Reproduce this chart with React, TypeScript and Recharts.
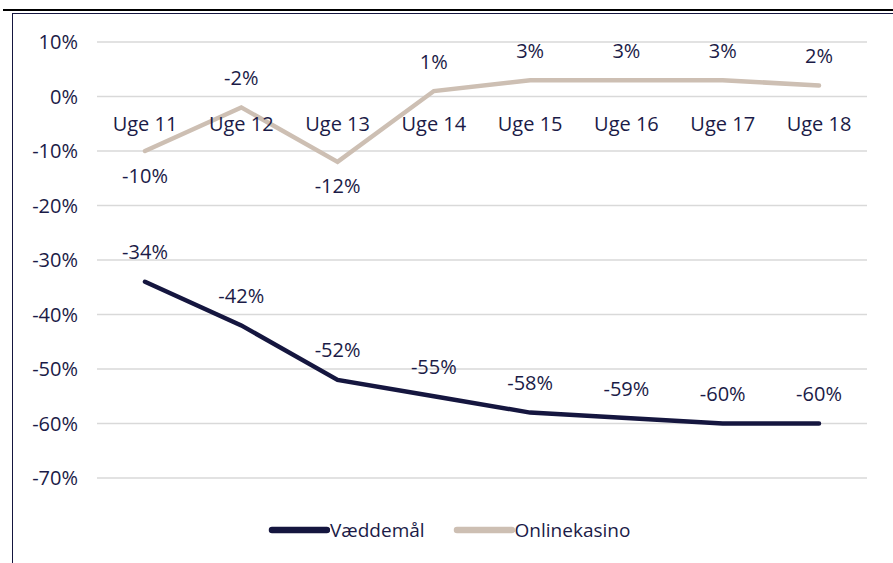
import { CartesianGrid, LabelList, Legend, Line, LineChart, XAxis, YAxis } from 'recharts'

const uger = ['Uge 11', 'Uge 12', 'Uge 13', 'Uge 14', 'Uge 15', 'Uge 16', 'Uge 17', 'Uge 18']
const vaeddemaal = [-34, -42, -52, -55, -58, -59, -60, -60]
const onlinekasino = [-10, -2, -12, 1, 3, 3, 3, 2]
const yTicks = [-70, -60, -50, -40, -30, -20, -10, 0, 10]

// which labels sit under the line instead of above it
const onlineUnder = [true, false, true, false, false, false, false, false]

const NAVY = '#15163f'
const BEIGE = '#cdbfb3'
const TEXT = '#1b1b47'
const FONT = "'Open Sans', sans-serif"

const W = 893
const H = 563
const TOP = 42
const PLOT_BOTTOM = 478
const Y_MIN = -70
const Y_MAX = 10
const ZERO_Y = TOP + (Y_MAX / (Y_MAX - Y_MIN)) * (PLOT_BOTTOM - TOP)

const data = uger.map((uge, i) => ({
  uge,
  vaeddemaal: vaeddemaal[i],
  onlinekasino: onlinekasino[i],
}))

const CategoryTick = (props: any) => {
  const { x, payload } = props
  return (
    <text x={x} y={ZERO_Y + 27} textAnchor="middle" dominantBaseline="central" fill={TEXT} fontSize={20} fontFamily={FONT}>
      {payload.value}
    </text>
  )
}

const pointLabel = (under?: boolean[]) => (props: any) => {
  const { x, y, value, index } = props
  const below = under ? under[index] : false
  return (
    <text
      x={x}
      y={below ? y + 24 : y - 30}
      textAnchor="middle"
      dominantBaseline="central"
      fill={TEXT}
      fontSize={20}
      fontFamily={FONT}
    >
      {`${value}%`}
    </text>
  )
}

const legendItems = [
  { name: 'Væddemål', color: NAVY },
  { name: 'Onlinekasino', color: BEIGE },
]

const ChartLegend = () => (
  <div style={{ display: 'flex', alignItems: 'center', height: 26, paddingLeft: 268 }}>
    {legendItems.map((item) => (
      <div key={item.name} style={{ display: 'flex', alignItems: 'center', marginRight: 28 }}>
        <svg width={62} height={10}>
          <line x1={4} y1={5} x2={59} y2={5} stroke={item.color} strokeWidth={6.5} strokeLinecap="round" />
        </svg>
        <span style={{ color: TEXT, fontSize: 19, fontFamily: FONT }}>{item.name}</span>
      </div>
    ))}
  </div>
)

export default function App() {
  return (
    <div style={{ position: 'absolute', left: 0, top: 0, width: W, height: H, overflow: 'hidden', background: '#fff' }}>
      <div style={{ position: 'absolute', left: 3, top: 9, width: 900, height: 2, background: '#000' }} />
      <div
        style={{
          position: 'absolute',
          left: 12,
          top: 13,
          width: 920,
          height: 620,
          border: `1.5px solid ${NAVY}`,
        }}
      />
      <div style={{ position: 'absolute', left: 0, top: 0 }}>
        <LineChart width={W} height={H} data={data} margin={{ top: TOP, right: 26, left: 0, bottom: 20 }}>
          <CartesianGrid vertical={false} stroke="#d9d9d9" strokeWidth={1.5} />
          <XAxis
            dataKey="uge"
            axisLine={false}
            tickLine={false}
            height={39}
            padding={{ left: 48, right: 48 }}
            tick={<CategoryTick />}
            interval={0}
          />
          <YAxis
            width={97}
            domain={[Y_MIN, Y_MAX]}
            ticks={yTicks}
            axisLine={false}
            tickLine={false}
            tickMargin={13}
            tickFormatter={(v: number) => `${v}%`}
            tick={{ fill: TEXT, fontSize: 20, fontFamily: FONT }}
          />
          <Legend verticalAlign="bottom" content={<ChartLegend />} />
          <Line
            type="linear"
            dataKey="vaeddemaal"
            name="Væddemål"
            stroke={NAVY}
            strokeWidth={4.5}
            strokeLinecap="round"
            dot={false}
            isAnimationActive={false}
          >
            <LabelList dataKey="vaeddemaal" content={pointLabel()} />
          </Line>
          <Line
            type="linear"
            dataKey="onlinekasino"
            name="Onlinekasino"
            stroke={BEIGE}
            strokeWidth={4.5}
            strokeLinecap="round"
            dot={false}
            isAnimationActive={false}
          >
            <LabelList dataKey="onlinekasino" content={pointLabel(onlineUnder)} />
          </Line>
        </LineChart>
      </div>
    </div>
  )
}
